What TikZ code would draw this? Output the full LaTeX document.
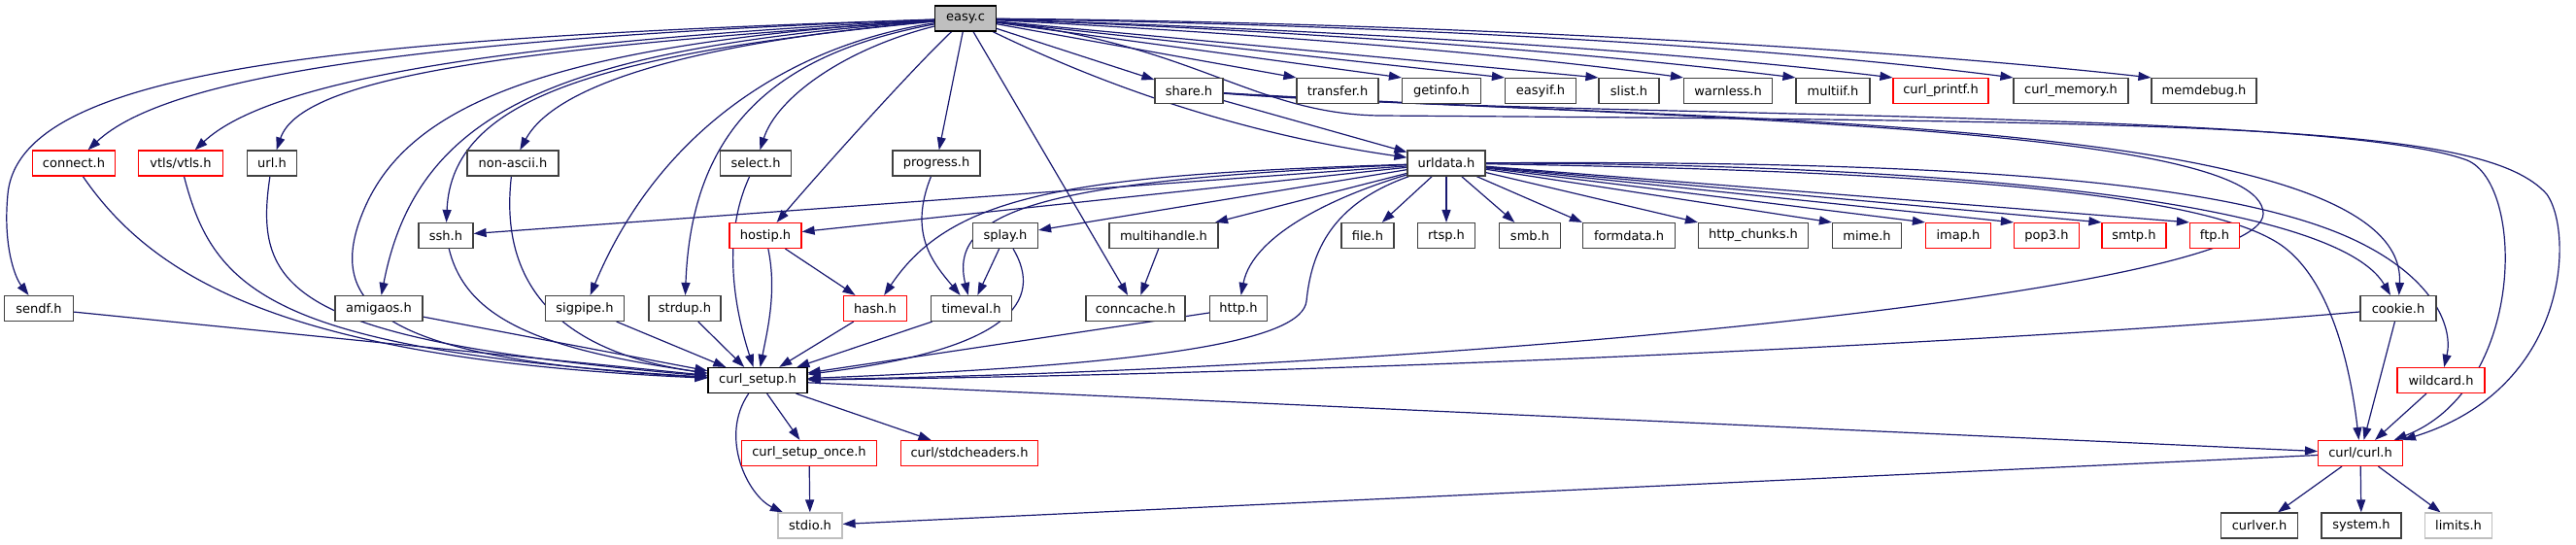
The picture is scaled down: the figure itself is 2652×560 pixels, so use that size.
\documentclass[tikz,border=0pt]{standalone}
\usepackage{fontspec}
\setmainfont{DejaVu Sans}
\usetikzlibrary{arrows.meta}
\definecolor{edgec}{HTML}{191970}
\definecolor{greyA}{HTML}{404040}
\definecolor{greyB}{HTML}{BFBFBF}
\definecolor{redc}{HTML}{FF0000}
\pgfdeclarelayer{bg}
\pgfsetlayers{bg,main}
\tikzset{
 fb/.style={draw=greyA, fill=white, line width=1.2pt, minimum height=26pt, inner sep=0pt, font=\fontsize{13}{15}\selectfont, text=black},
 rb/.style={fb, draw=redc},
 gb/.style={fb, draw=greyB},
 rootb/.style={fb, draw=black, fill=greyB},
 e/.style={draw=edgec, line width=1.2pt, -{Triangle[length=13pt,width=9pt]}},
}
\begin{document}
\begin{tikzpicture}[x=1pt,y=-1pt]
\useasboundingbox (0,0) rectangle (2652,560);
% row 0
\node[rootb,minimum width=63pt] (easy) at (994,19) {easy.c};
% row 1
\node[fb,minimum width=70pt] (share) at (1224,93.5) {share.h};
\node[fb,minimum width=84pt] (transfer) at (1377,93.5) {transfer.h};
\node[fb,minimum width=81pt] (getinfo) at (1484,93.5) {getinfo.h};
\node[fb,minimum width=73pt] (easyif) at (1586,93.5) {easyif.h};
\node[fb,minimum width=62pt] (slist) at (1677,93.5) {slist.h};
\node[fb,minimum width=91pt] (warnless) at (1779,93.5) {warnless.h};
\node[fb,minimum width=76pt] (multiif) at (1887,93.5) {multiif.h};
\node[rb,minimum width=98pt] (printf) at (1998,93.5) {curl\_printf.h};
\node[fb,minimum width=118pt] (memory) at (2132,93.5) {curl\_memory.h};
\node[fb,minimum width=108pt] (memdebug) at (2269,93.5) {memdebug.h};
% row 2
\node[rb,minimum width=85pt] (connect) at (76,168) {connect.h};
\node[rb,minimum width=87pt] (vtls) at (186,168) {vtls/vtls.h};
\node[fb,minimum width=51pt] (url) at (280,168) {url.h};
\node[fb,minimum width=94pt] (nonascii) at (528,168) {non-ascii.h};
\node[fb,minimum width=73pt] (select) at (778,168) {select.h};
\node[fb,minimum width=90pt] (progress) at (964,168) {progress.h};
\node[fb,minimum width=80pt] (urldata) at (1489,168) {urldata.h};
% row 3
\node[fb,minimum width=56pt] (ssh) at (459,242.5) {ssh.h};
\node[rb,minimum width=74pt] (hostip) at (788,242.5) {hostip.h};
\node[fb,minimum width=67pt] (splay) at (1035,242.5) {splay.h};
\node[fb,minimum width=112pt] (multihandle) at (1198,242.5) {multihandle.h};
\node[fb,minimum width=54pt] (file) at (1408,242.5) {file.h};
\node[fb,minimum width=59pt] (rtsp) at (1489,242.5) {rtsp.h};
\node[fb,minimum width=63pt] (smb) at (1575,242.5) {smb.h};
\node[fb,minimum width=95pt] (formdata) at (1677,242.5) {formdata.h};
\node[fb,minimum width=113pt] (chunks) at (1805,242.5) {http\_chunks.h};
\node[fb,minimum width=71pt] (mime) at (1922,242.5) {mime.h};
\node[rb,minimum width=67pt] (imap) at (2016,242.5) {imap.h};
\node[rb,minimum width=67pt] (pop3) at (2107,242.5) {pop3.h};
\node[rb,minimum width=66pt] (smtp) at (2197,242.5) {smtp.h};
\node[rb,minimum width=51pt] (ftp) at (2280,242.5) {ftp.h};
% row 4
\node[fb,minimum width=71pt] (sendf) at (40,317.5) {sendf.h};
\node[fb,minimum width=90pt] (amigaos) at (390,317.5) {amigaos.h};
\node[fb,minimum width=81pt] (sigpipe) at (602,317.5) {sigpipe.h};
\node[fb,minimum width=74pt] (strdup) at (705,317.5) {strdup.h};
\node[rb,minimum width=65pt] (hash) at (901,317.5) {hash.h};
\node[fb,minimum width=83pt] (timeval) at (1000,317.5) {timeval.h};
\node[fb,minimum width=102pt] (conncache) at (1169,317.5) {conncache.h};
\node[fb,minimum width=59pt] (http) at (1275,317.5) {http.h};
\node[fb,minimum width=78pt] (cookie) at (2469,317.5) {cookie.h};
% row 5
\node[fb,draw=black,minimum width=102pt] (curlsetup) at (780,391.5) {curl\_setup.h};
\node[rb,minimum width=90pt] (wildcard) at (2513,391.5) {wildcard.h};
% row 6
\node[rb,minimum width=139pt] (setuponce) at (833,466.5) {curl\_setup\_once.h};
\node[rb,minimum width=141pt] (stdcheaders) at (998,466.5) {curl/stdcheaders.h};
\node[rb,minimum width=87pt] (curlcurl) at (2430,466.5) {curl/curl.h};
% row 7
\node[gb,minimum width=66pt] (stdio) at (834,541) {stdio.h};
\node[fb,minimum width=79pt] (curlver) at (2326,541) {curlver.h};
\node[fb,minimum width=82pt] (system) at (2431,541) {system.h};
\node[gb,minimum width=69pt] (limits) at (2531,541) {limits.h};

\begin{pgfonlayer}{bg}
% easy.c
\draw[e] (easy) .. controls (350,40) and (20,70) .. (8,200) .. controls (3,252) and (15,285) .. (sendf);
\draw[e] (easy) .. controls (420,40) and (170,80) .. (connect);
\draw[e] (easy) .. controls (470,45) and (270,90) .. (vtls);
\draw[e] (easy) .. controls (520,50) and (310,80) .. (url);
\draw[e] (easy) .. controls (560,45) and (420,110) .. (375,215) .. controls (330,320) and (400,370) .. (curlsetup);
\draw[e] (easy) .. controls (580,50) and (430,110) .. (amigaos);
\draw[e] (easy) .. controls (620,55) and (465,100) .. (ssh);
\draw[e] (easy) .. controls (700,45) and (570,90) .. (nonascii);
\draw[e] (easy) .. controls (820,45) and (680,130) .. (sigpipe);
\draw[e] (easy) .. controls (800,55) and (712,130) .. (strdup);
\draw[e] (easy) .. controls (870,50) and (800,100) .. (select);
\draw[e] (easy) .. controls (940,70) and (850,170) .. (hostip);
\draw[e] (easy) -- (progress);
\draw[e] (easy) -- (conncache);
\draw[e] (easy) .. controls (1120,80) and (1260,135) .. (urldata);
\draw[e] (easy) -- (share);
\draw[e] (easy) -- (transfer.north west);
\draw[e] (easy) -- (getinfo.north west);
\draw[e] (easy) -- (easyif.north west);
\draw[e] (easy) -- (slist.north west);
\draw[e] (easy) .. controls (1300,35) and (1550,55) .. (warnless.north west);
\draw[e] (easy) .. controls (1300,30) and (1600,50) .. (multiif.north west);
\draw[e] (easy) .. controls (1350,30) and (1700,50) .. (printf.north west);
\draw[e] (easy) .. controls (1400,25) and (1800,45) .. (memory.north west);
\draw[e] (easy) .. controls (1400,22) and (1900,45) .. (memdebug.north west);
\draw[e] (easy) .. controls (1230,45) and (1290,117) .. (1420,119) .. controls (2300,125) and (2560,130) .. (2622,200) .. controls (2650,240) and (2645,400) .. (curlcurl);
% share.h
\draw[e] (share) -- (urldata);
\draw[e] (share) .. controls (1600,122) and (2400,112) .. (2540,165) .. controls (2600,190) and (2600,400) .. (curlcurl);
\draw[e] (share) .. controls (1700,126) and (2480,112) .. (cookie);
\draw[e] (share) .. controls (1700,122) and (2330,128) .. (2330,220) .. controls (2330,300) and (1500,380) .. (curlsetup);
% urldata.h
\draw[e] (urldata) -- (ssh);
\draw[e] (urldata) -- (hostip);
\draw[e] (urldata) -- (splay);
\draw[e] (urldata) -- (multihandle);
\draw[e] (urldata) .. controls (1100,180) and (980,200) .. (hash);
\draw[e] (urldata) .. controls (1080,185) and (975,215) .. (timeval);
\draw[e] (urldata) .. controls (1380,200) and (1290,240) .. (http);
\draw[e] (urldata) .. controls (1370,210) and (1350,260) .. (1345,310) .. controls (1340,350) and (1200,375) .. (curlsetup);
\draw[e] (urldata) -- (file);
\draw[e] (urldata) -- (rtsp);
\draw[e] (urldata) -- (smb);
\draw[e] (urldata) -- (formdata.north west);
\draw[e] (urldata) -- (chunks.north west);
\draw[e] (urldata) -- (mime.north west);
\draw[e] (urldata) -- (imap.north west);
\draw[e] (urldata) -- (pop3.north west);
\draw[e] (urldata) -- (smtp.north west);
\draw[e] (urldata) -- (ftp.north west);
\draw[e] (urldata) .. controls (1950,168) and (2400,200) .. (cookie);
\draw[e] (urldata) .. controls (2000,165) and (2300,185) .. (2430,250) .. controls (2510,290) and (2525,340) .. (wildcard);
\draw[e] (urldata) .. controls (1900,175) and (2250,190) .. (2345,250) .. controls (2400,285) and (2420,380) .. (curlcurl);
% others
\draw[e] (progress) .. controls (935,240) and (960,270) .. (timeval);
\draw[e] (hostip) .. controls (800,300) and (790,340) .. (curlsetup);
\draw[e] (hostip) -- (hash);
\draw[e] (splay) -- (timeval);
\draw[e] (splay) .. controls (1075,310) and (1040,360) .. (curlsetup);
\draw[e] (multihandle) -- (conncache);
\draw[e] (timeval) -- (curlsetup);
\draw[e] (hash) -- (curlsetup);
\draw[e] (strdup) -- (curlsetup);
\draw[e] (sigpipe) -- (curlsetup);
\draw[e] (amigaos) -- (curlsetup);
\draw[e] (sendf) -- (curlsetup);
\draw[e] (http) -- (curlsetup);
\draw[e] (ssh) .. controls (480,330) and (560,360) .. (curlsetup);
\draw[e] (nonascii) .. controls (515,280) and (560,360) .. (curlsetup);
\draw[e] (url) .. controls (260,300) and (300,350) .. (curlsetup);
\draw[e] (vtls) .. controls (220,300) and (280,360) .. (curlsetup);
\draw[e] (connect) .. controls (160,290) and (300,370) .. (curlsetup);
\draw[e] (select) .. controls (740,250) and (760,330) .. (curlsetup);
\draw[e] (cookie) .. controls (2100,350) and (1400,385) .. (curlsetup);
\draw[e] (cookie) -- (curlcurl);
\draw[e] (wildcard) -- (curlcurl);
\draw[e] (curlsetup) -- (setuponce);
\draw[e] (curlsetup) -- (stdcheaders);
\draw[e] (curlsetup) -- (curlcurl);
\draw[e] (curlsetup) .. controls (740,450) and (770,510) .. (stdio);
\draw[e] (setuponce) -- (stdio);
\draw[e] (curlcurl) -- (stdio);
\draw[e] (curlcurl) -- (curlver);
\draw[e] (curlcurl) -- (system);
\draw[e] (curlcurl) -- (limits);
\end{pgfonlayer}
\end{tikzpicture}
\end{document}
